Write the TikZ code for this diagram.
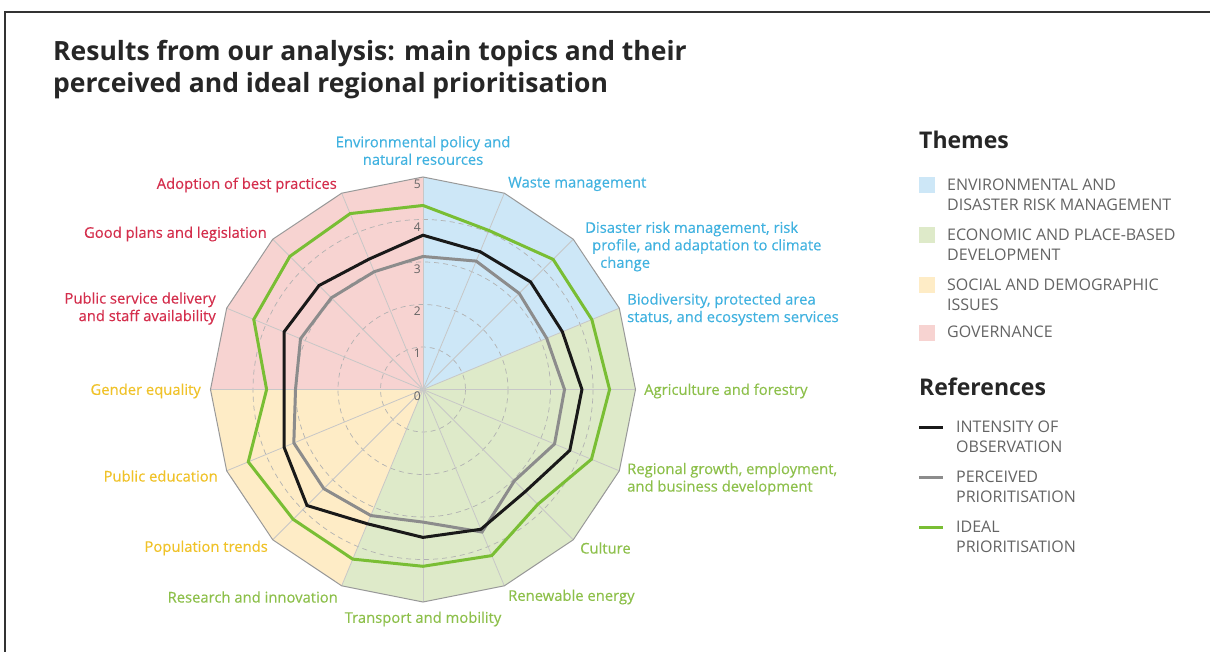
\documentclass[tikz,border=0pt]{standalone}
\usepackage{fontspec}
\setmainfont{Open Sans}
\newfontface\labfont{Open Sans}[FakeBold=0.35]
\definecolor{fblue}{RGB}{205,231,247}
\definecolor{fgreen}{RGB}{222,234,201}
\definecolor{fyellow}{RGB}{254,236,198}
\definecolor{fred}{RGB}{247,211,209}
\definecolor{tblue}{RGB}{64,178,224}
\definecolor{tgreen}{RGB}{141,192,74}
\definecolor{tyellow}{RGB}{240,194,40}
\definecolor{tred}{RGB}{212,46,76}
\definecolor{lgreen}{RGB}{121,190,52}
\definecolor{lgray}{RGB}{140,140,140}
\definecolor{lblack}{RGB}{25,25,25}
\definecolor{legtext}{RGB}{100,100,100}
\begin{document}
\begin{tikzpicture}[x=1pt,y=-1pt,
  lab/.style={font=\labfont\fontsize{14.8}{17.5}\selectfont, inner sep=0pt},
  legtxt/.style={font=\fontsize{16}{20}\selectfont, text=legtext, anchor=west, align=left, inner sep=0pt},
  legbox/.style={minimum width=16pt, minimum height=16pt, inner sep=0pt, draw=none},
  head/.style={font=\fontsize{23}{26}\selectfont\bfseries, anchor=west, inner sep=0pt},
  num/.style={font=\fontsize{12}{13}\selectfont, text=legtext, anchor=east, inner sep=0pt},
  series/.style={line width=3pt, line join=miter}]
\useasboundingbox (0,0) rectangle (1210,652);
\fill[white] (0,0) rectangle (1210,652);
\draw[line width=2pt, black!80] (5,652) -- (5,12) -- (1210,12);

% title
\node[anchor=base west, inner sep=0pt, font=\fontsize{26.5}{32}\selectfont\bfseries, text=black!85] (title1) at (53,61) {Results from our analysis: main topics and their};
\node[anchor=base west, inner sep=0pt, font=\fontsize{26.5}{32}\selectfont\bfseries, text=black!85] (title2) at (53,93) {perceived and ideal regional prioritisation};

% geometry
\coordinate (C) at (423,389.5);
\foreach \i in {0,...,15} {
  \coordinate (o\i) at ({423+212.5*cos(90-22.5*\i)},{389.5-212.5*sin(90-22.5*\i)});
}
% sectors
\fill[fblue] (C) -- (o0) -- (o1) -- (o2) -- (o3) -- cycle;
\fill[fgreen] (C) -- (o3) -- (o4) -- (o5) -- (o6) -- (o7) -- (o8) -- (o9) -- cycle;
\fill[fyellow] (C) -- (o9) -- (o10) -- (o11) -- (o12) -- cycle;
\fill[fred] (C) -- (o12) -- (o13) -- (o14) -- (o15) -- (o0) -- cycle;
% grid
\foreach \r in {1,2,3,4} {
  \draw[black!30, line width=0.7pt, dash pattern=on 5pt off 4pt] (C) circle[radius=42.5*\r];
}
\foreach \i in {0,...,15} { \draw[black!22, line width=0.8pt] (C) -- (o\i); }
\draw[black!40, line width=1pt] (o0) \foreach \i in {1,...,15} { -- (o\i) } -- cycle;

% series
\foreach \v [count=\i from 0] in {3.13,3.27,3.2,3.15,3.33,3.35,3.04,3.63,3.12,3.21,3.30,3.29,3.0,3.12,3.05,3.0} {
  \coordinate (g\i) at ({423+42.5*\v*cos(90-22.5*\i)},{389.5-42.5*\v*sin(90-22.5*\i)});
}
\foreach \v [count=\i from 0] in {3.63,3.51,3.58,3.55,3.74,3.74,3.40,3.56,3.48,3.42,3.86,3.54,3.27,3.54,3.46,3.32} {
  \coordinate (b\i) at ({423+42.5*\v*cos(90-22.5*\i)},{389.5-42.5*\v*sin(90-22.5*\i)});
}
\foreach \v [count=\i from 0] in {4.33,4.05,4.33,4.30,4.39,4.29,3.82,4.23,4.16,4.32,4.32,4.45,3.68,4.31,4.43,4.48} {
  \coordinate (e\i) at ({423+42.5*\v*cos(90-22.5*\i)},{389.5-42.5*\v*sin(90-22.5*\i)});
}
\draw[series, lgray] (g0) \foreach \i in {1,...,15} { -- (g\i) } -- cycle;
\draw[series, lblack] (b0) \foreach \i in {1,...,15} { -- (b\i) } -- cycle;
\draw[series, lgreen] (e0) \foreach \i in {1,...,15} { -- (e\i) } -- cycle;

% axis numbers
\foreach \n in {0,...,5} { \node[num] (n\n) at (421,{396-42.3*\n}) {\n}; }

% axis labels
\node[lab, text=tblue, align=center] (l0) at (423,150.5) {Environmental policy and\\natural resources};
\node[lab, text=tblue, anchor=west] (l1) at (508,184) {Waste management};
\node[lab, text=tblue, anchor=west, align=left] (l2) at (585,246.5) {Disaster risk management, risk\\\hspace*{7pt}profile, and adaptation to climate\\\hspace*{15pt}change};
\node[lab, text=tblue, anchor=west, align=left] (l3) at (627,309.5) {Biodiversity, protected area\\status, and ecosystem services};
\node[lab, text=tgreen, anchor=west] (l4) at (644,391) {Agriculture and forestry};
\node[lab, text=tgreen, anchor=west, align=left] (l5) at (627,479) {Regional growth, employment,\\and business development};
\node[lab, text=tgreen, anchor=west] (l6) at (580,548) {Culture};
\node[lab, text=tgreen, anchor=west] (l7) at (508,597) {Renewable energy};
\node[lab, text=tgreen] (l8) at (423,619) {Transport and mobility};
\node[lab, text=tgreen, anchor=east] (l9) at (338,597) {Research and innovation};
\node[lab, text=tyellow, anchor=east] (l10) at (268,548) {Population trends};
\node[lab, text=tyellow, anchor=east] (l11) at (218,476) {Public education};
\node[lab, text=tyellow, anchor=east] (l12) at (201,391) {Gender equality};
\node[lab, text=tred, anchor=east, align=right] (l13) at (216,308.5) {Public service delivery\\and staff availability};
\node[lab, text=tred, anchor=east] (l14) at (267,234) {Good plans and legislation};
\node[lab, text=tred, anchor=east] (l15) at (337,185) {Adoption of best practices};

% legend: themes
\node[head, text=black!85] (themes) at (919,140) {Themes};
\node[legbox, fill=fblue, anchor=north west] (s1) at (919,177) {};
\node[legtxt] (t1) at (947,195) {ENVIRONMENTAL AND\\DISASTER RISK MANAGEMENT};
\node[legbox, fill=fgreen, anchor=north west] (s2) at (919,227) {};
\node[legtxt] (t2) at (947,245) {ECONOMIC AND PLACE-BASED\\DEVELOPMENT};
\node[legbox, fill=fyellow, anchor=north west] (s3) at (919,277) {};
\node[legtxt] (t3) at (947,295) {SOCIAL AND DEMOGRAPHIC\\ISSUES};
\node[legbox, fill=fred, anchor=north west] (s4) at (919,325) {};
\node[legtxt] (t4) at (947,332) {GOVERNANCE};

% legend: references
\node[head, text=black!85] (refs) at (919,387) {References};
\coordinate (r1a) at (919,427); \coordinate (r1b) at (943,427);
\draw[line width=3pt, lblack] (r1a) -- (r1b);
\node[legtxt] (u1) at (956,436.5) {INTENSITY OF\\OBSERVATION};
\coordinate (r2a) at (919,477); \coordinate (r2b) at (943,477);
\draw[line width=3pt, lgray] (r2a) -- (r2b);
\node[legtxt] (u2) at (956,486.5) {PERCEIVED\\PRIORITISATION};
\coordinate (r3a) at (919,527); \coordinate (r3b) at (943,527);
\draw[line width=3pt, lgreen] (r3a) -- (r3b);
\node[legtxt] (u3) at (956,537) {IDEAL\\PRIORITISATION};
\end{tikzpicture}
\end{document}
